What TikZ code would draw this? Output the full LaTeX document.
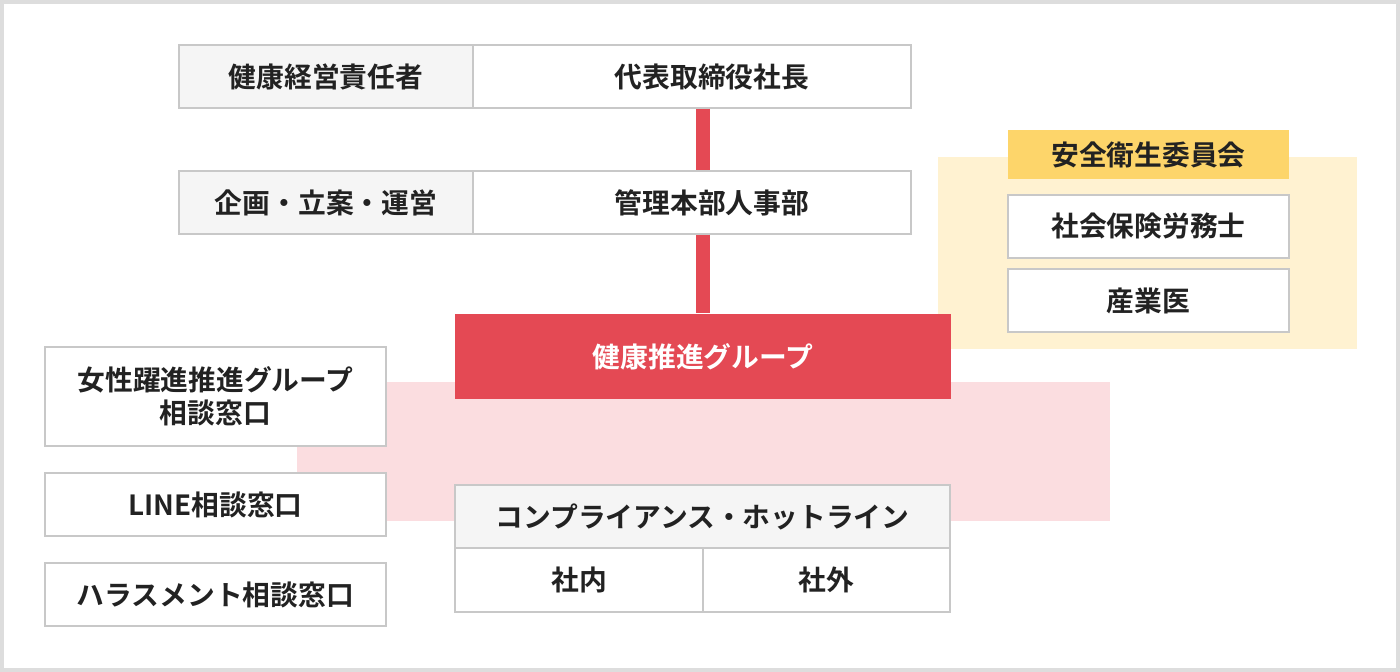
\documentclass[tikz,border=0pt]{standalone}
\usepackage{fontspec}
\setmainfont{Noto Sans CJK JP}[BoldFont={* Bold}]
\definecolor{framegray}{HTML}{DDDDDD}
\definecolor{boxline}{HTML}{C8C8C8}
\definecolor{cellgray}{HTML}{F5F5F5}
\definecolor{groupred}{HTML}{E44954}
\definecolor{pinkbg}{HTML}{FBDDE0}
\definecolor{yellowbg}{HTML}{FFF2D1}
\definecolor{yellowhead}{HTML}{FDD56A}
\definecolor{inkdark}{HTML}{222222}
\tikzset{
  cell/.style={draw=boxline, line width=0.85pt, fill=white, inner sep=0pt,
    font=\fontsize{15.8}{19}\selectfont\bfseries, text=inkdark, align=center},
  graycell/.style={cell, fill=cellgray},
  rightcell/.style={cell, execute at begin node={\hspace*{0.8cm}}},
  redline/.style={groupred, line width=0.28cm}
}
\begin{document}
\begin{tikzpicture}[x=0.02cm,y=-0.02cm]
    \useasboundingbox (0,0) rectangle (1400,672);
    \fill[framegray] (0,0) rectangle (1400,672);
    \fill[white] (4,4) rectangle (1396,668);

    % backgrounds
    \fill[pinkbg] (297,382) rectangle (1110,521);
    \fill[yellowbg] (938,157) rectangle (1357,349);

    % management rows
    \node[graycell, minimum width=5.88cm, minimum height=1.26cm] (ceoL) at (326,76.5) {健康経営責任者};
    \node[rightcell, minimum width=8.76cm, minimum height=1.26cm] (ceo) at (692,76.5) {代表取締役社長};
    \node[graycell, minimum width=5.88cm, minimum height=1.26cm] (hrL) at (326,202.5) {企画・立案・運営};
    \node[rightcell, minimum width=8.76cm, minimum height=1.26cm] (hr) at (692,202.5) {管理本部人事部};

    % committee
    \node[cell, draw=none, fill=yellowhead, minimum width=5.62cm, minimum height=0.98cm] (committee) at (1148.5,154.5) {安全衛生委員会};
    \node[cell, minimum width=5.62cm, minimum height=1.26cm] (sharoushi) at (1148.5,226.5) {社会保険労務士};
    \node[cell, minimum width=5.62cm, minimum height=1.26cm] (doctor) at (1148.5,300.5) {産業医};

    % health group
    \node[cell, draw=none, fill=groupred, text=white, minimum width=9.92cm, minimum height=1.7cm] (group) at (703,356.5) {健康推進グループ};

    \draw[redline] (group.north |- ceo.south) -- (group.north |- hr.north);
    \draw[redline] (group.north |- hr.south) -- (group.north);

    % consultation desks
    \node[cell, minimum width=6.82cm, minimum height=1.98cm] (women) at (215.5,396.5) {女性躍進推進グループ\\相談窓口};
    \node[cell, minimum width=6.82cm, minimum height=1.26cm] (line) at (215.5,504.5) {LINE相談窓口};
    \node[cell, minimum width=6.82cm, minimum height=1.26cm] (harass) at (215.5,594.5) {ハラスメント相談窓口};

    % hotline
    \node[graycell, minimum width=9.9cm, minimum height=1.26cm] (hotline) at (702.5,516.5) {コンプライアンス・ホットライン};
    \node[cell, minimum width=4.96cm, minimum height=1.28cm] (inside) at (579,580) {社内};
    \node[cell, minimum width=4.94cm, minimum height=1.28cm] (outside) at (826.5,580) {社外};

\end{tikzpicture}
\end{document}
